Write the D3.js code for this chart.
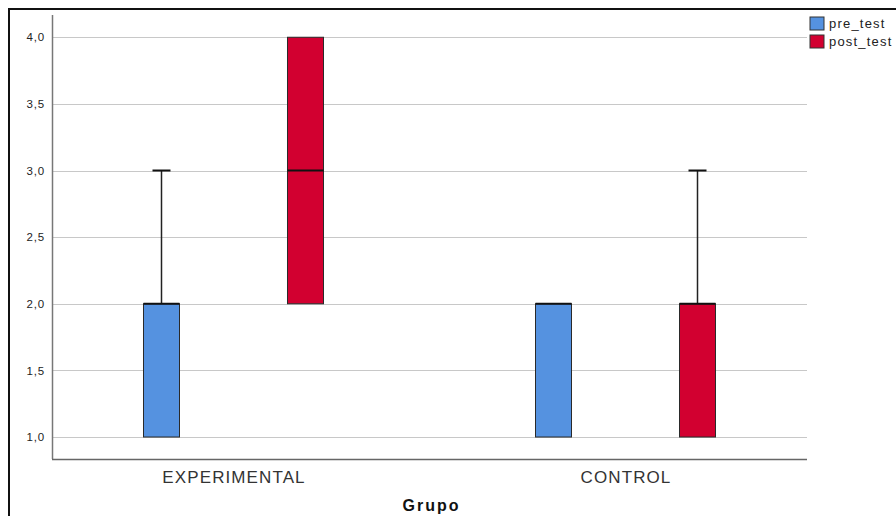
<!DOCTYPE html>
<html>
<head>
<meta charset="utf-8">
<script src="https://cdn.jsdelivr.net/npm/d3@7"></script>
<style>
    body { margin: 0; background: #fff; }
    svg { display: block; font-family: "Liberation Sans", Arial, sans-serif; }
</style>
</head>
<body>
<div id="chart"></div>
<script>
// data
const groups = ["EXPERIMENTAL", "CONTROL"];
const series = ["pre_test", "post_test"];
const yTicks = [1, 1.5, 2, 2.5, 3, 3.5, 4];

// box stats per group, one array per series
const preMin = [1, 1];
const preQ1 = [1, 1];
const preMedian = [2, 2];
const preQ3 = [2, 2];
const preMax = [3, 2];

const postMin = [2, 1];
const postQ1 = [2, 1];
const postMedian = [3, 2];
const postQ3 = [4, 2];
const postMax = [4, 3];

const colors = { pre_test: "#5592e0", post_test: "#d20030" };

const width = 896;
const height = 516;
const plot = { left: 52, right: 807, top: 15, bottom: 459 };

const boxes = [];
groups.forEach((g, i) => {
    boxes.push({ group: g, series: "pre_test", min: preMin[i], q1: preQ1[i], median: preMedian[i], q3: preQ3[i], max: preMax[i] });
    boxes.push({ group: g, series: "post_test", min: postMin[i], q1: postQ1[i], median: postMedian[i], q3: postQ3[i], max: postMax[i] });
});

const svg = d3
    .select("#chart")
    .append("svg")
    .attr("width", width)
    .attr("height", height);

// outer frame (cut off at right and bottom like the source)
svg.append("rect")
    .attr("x", 9)
    .attr("y", 9)
    .attr("width", 920)
    .attr("height", 540)
    .attr("fill", "none")
    .attr("stroke", "#111")
    .attr("stroke-width", 2);

const yScale = d3
    .scaleLinear()
    .domain([0.835, 4.167])
    .range([plot.bottom, plot.top]);

const xScale = d3
    .scalePoint()
    .domain(groups)
    .range([plot.left, plot.right])
    .padding(0.463);

const sub = d3
    .scaleBand()
    .domain(series)
    .range([-144, 144]);

const boxW = 36;

const locale = d3.formatLocale({ decimal: ",", thousands: ".", grouping: [3], currency: ["", ""] });
const fmt = locale.format(".1f");

// grid lines
svg.append("g")
    .selectAll("line")
    .data(yTicks)
    .enter()
    .append("line")
    .attr("x1", plot.left)
    .attr("x2", plot.right)
    .attr("y1", (d) => Math.round(yScale(d)) + 0.5)
    .attr("y2", (d) => Math.round(yScale(d)) + 0.5)
    .attr("stroke", "#c8c8c8")
    .attr("stroke-width", 1);

// y axis
const yAxis = svg
    .append("g")
    .attr("transform", `translate(${plot.left}, 0)`)
    .call(d3.axisLeft(yScale).tickValues(yTicks).tickFormat(fmt).tickSize(0).tickPadding(7));

yAxis.select(".domain").remove();
yAxis.selectAll("text")
    .attr("font-size", 11.5)
    .attr("letter-spacing", "0.8px")
    .attr("fill", "#222")
    .style("font-family", "Liberation Sans, Arial, sans-serif");

svg.append("line")
    .attr("x1", plot.left + 0.5)
    .attr("x2", plot.left + 0.5)
    .attr("y1", plot.top)
    .attr("y2", plot.bottom)
    .attr("stroke", "#777")
    .attr("stroke-width", 1.5);

// x axis
const xAxis = svg
    .append("g")
    .attr("transform", `translate(0, ${plot.bottom})`)
    .call(d3.axisBottom(xScale).tickSize(0).tickPadding(12));

xAxis.select(".domain").remove();
xAxis.selectAll("text")
    .attr("font-size", 17)
    .attr("letter-spacing", "1.1px")
    .attr("fill", "#333")
    .style("font-family", "Liberation Sans, Arial, sans-serif");

svg.append("line")
    .attr("x1", plot.left)
    .attr("x2", plot.right)
    .attr("y1", plot.bottom + 0.5)
    .attr("y2", plot.bottom + 0.5)
    .attr("stroke", "#666")
    .attr("stroke-width", 1.5);

svg.append("text")
    .attr("x", (plot.left + plot.right) / 2 + 2)
    .attr("y", 511)
    .attr("text-anchor", "middle")
    .attr("font-size", 16)
    .attr("font-weight", "bold")
    .attr("letter-spacing", "2px")
    .attr("fill", "#111")
    .text("Grupo");

// boxes
const cx = (d) => xScale(d.group) + sub(d.series) + sub.bandwidth() / 2;

const box = svg
    .append("g")
    .selectAll("g")
    .data(boxes)
    .enter()
    .append("g");

// whiskers
box.filter((d) => d.max > d.q3)
    .append("line")
    .attr("x1", cx)
    .attr("x2", cx)
    .attr("y1", (d) => yScale(d.q3))
    .attr("y2", (d) => yScale(d.max))
    .attr("stroke", "#222")
    .attr("stroke-width", 1.5);

box.filter((d) => d.max > d.q3)
    .append("line")
    .attr("x1", (d) => cx(d) - boxW / 4)
    .attr("x2", (d) => cx(d) + boxW / 4)
    .attr("y1", (d) => yScale(d.max))
    .attr("y2", (d) => yScale(d.max))
    .attr("stroke", "#111")
    .attr("stroke-width", 2);

box.filter((d) => d.min < d.q1)
    .append("line")
    .attr("x1", cx)
    .attr("x2", cx)
    .attr("y1", (d) => yScale(d.q1))
    .attr("y2", (d) => yScale(d.min))
    .attr("stroke", "#222")
    .attr("stroke-width", 1.5);

box.append("rect")
    .attr("x", (d) => cx(d) - boxW / 2)
    .attr("y", (d) => yScale(d.q3))
    .attr("width", boxW)
    .attr("height", (d) => yScale(d.q1) - yScale(d.q3))
    .attr("fill", (d) => colors[d.series])
    .attr("stroke", "#2a2a2a")
    .attr("stroke-width", 1);

box.append("line")
    .attr("x1", (d) => cx(d) - boxW / 2)
    .attr("x2", (d) => cx(d) + boxW / 2)
    .attr("y1", (d) => yScale(d.median))
    .attr("y2", (d) => yScale(d.median))
    .attr("stroke", "#111")
    .attr("stroke-width", 2);

// legend
const legend = svg
    .append("g")
    .selectAll("g")
    .data(series)
    .enter()
    .append("g")
    .attr("transform", (d, i) => `translate(810, ${17 + i * 18})`);

legend.append("rect")
    .attr("width", 14)
    .attr("height", 13)
    .attr("fill", (d) => colors[d])
    .attr("stroke", "#333")
    .attr("stroke-width", 1);

legend.append("text")
    .attr("x", 19)
    .attr("y", 11)
    .attr("font-size", 13)
    .attr("letter-spacing", "1.2px")
    .attr("fill", "#222")
    .text((d) => d);
</script>
</body>
</html>
